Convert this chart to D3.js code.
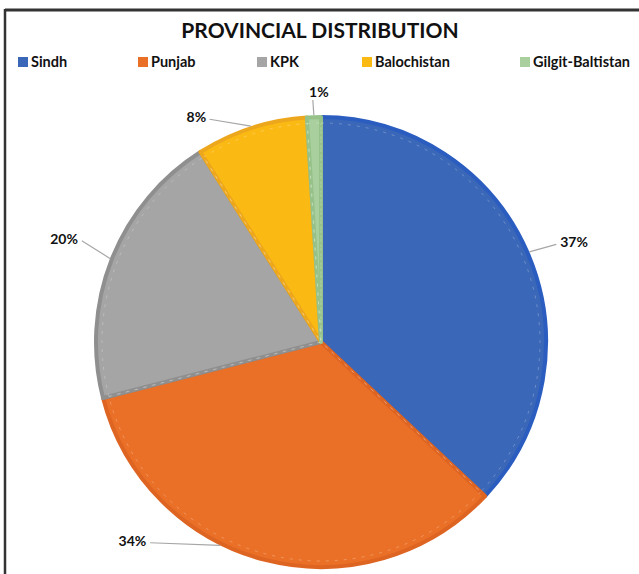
<!DOCTYPE html>
<html>
<head>
<meta charset="utf-8">
<script src="https://cdnjs.cloudflare.com/ajax/libs/d3/7.8.5/d3.min.js"></script>
<style>
  body { margin: 0; background: #fff; }
</style>
</head>
<body>
<div id="chart"></div>
<script>
const w = 639;
const h = 574;

// data
const provinces = ["Sindh", "Punjab", "KPK", "Balochistan", "Gilgit-Baltistan"];
const shares = [37, 34, 20, 8, 1];
const fills = ["#3a67b7", "#ea7027", "#a5a5a5", "#fbb914", "#a8cf9d"];
const edges = ["#2a5dbf", "#de6422", "#8f8f8f", "#eda71c", "#96c28a"];

// label placement: [leader angle shift (deg), text angle (deg), text radius]
const labelLayout = [
  [0, 68.5, 272],
  [12, 223.5, 274],
  [0, 291.9, 277],
  [0, 331, 257],
  [0, 359.5, 250]
];

const cx = 321, cy = 342, r = 227;

const svg = d3.select("#chart").append("svg")
  .attr("width", w).attr("height", h)
  .style("font-family", "Lato, 'Open Sans', sans-serif");

// frame (top and left edges only are visible)
svg.append("line").attr("x1", 5).attr("x2", w).attr("y1", 10).attr("y2", 10)
  .attr("stroke", "#333").attr("stroke-width", 3);
svg.append("line").attr("x1", 5).attr("x2", 5).attr("y1", 9).attr("y2", h)
  .attr("stroke", "#333").attr("stroke-width", 2.5);

svg.append("text")
  .attr("x", 320).attr("y", 38)
  .attr("text-anchor", "middle")
  .style("font-size", "21px").style("font-weight", "bold")
  .attr("fill", "#111")
  .text("PROVINCIAL DISTRIBUTION");

// legend
const legendX = [18, 138, 257, 362, 520];
const legend = svg.selectAll("g.leg").data(provinces).enter().append("g")
  .attr("class", "leg")
  .attr("transform", (d, i) => "translate(" + legendX[i] + ",57)");
legend.append("rect").attr("width", 10).attr("height", 10)
  .attr("fill", (d, i) => fills[i]);
legend.append("text").attr("x", 13).attr("y", 10)
  .style("font-size", "14.5px").style("font-weight", "bold")
  .attr("fill", "#111")
  .text(d => d);

// pie
const pie = d3.pie().sort(null).value(d => d)(shares);
const arc = d3.arc().innerRadius(0).outerRadius(r - 2);

const g = svg.append("g").attr("transform", "translate(" + cx + "," + cy + ")");
g.selectAll("path").data(pie).enter().append("path")
  .attr("d", arc)
  .attr("fill", (d, i) => fills[i])
  .attr("stroke", (d, i) => edges[i])
  .attr("stroke-width", 4)
  .attr("stroke-linejoin", "round");

// inner dashed highlight like the source
const innerArc = d3.arc().innerRadius(0).outerRadius(r - 8);
g.selectAll("path.hl").data(pie).enter().append("path")
  .attr("class", "hl")
  .attr("d", innerArc)
  .attr("fill", "none")
  .attr("stroke", "#fff")
  .attr("stroke-opacity", 0.25)
  .attr("stroke-width", 1)
  .attr("stroke-dasharray", "3,6");

// labels with leader lines
const rad = a => a * Math.PI / 180;
pie.forEach(function (d, i) {
  const lay = labelLayout[i];
  const mid = (d.startAngle + d.endAngle) / 2 + rad(lay[0]);
  const p0 = [r * Math.sin(mid), -r * Math.cos(mid)];
  const ta = rad(lay[1]);
  const tx = lay[2] * Math.sin(ta), ty = -lay[2] * Math.cos(ta);
  const txt = d3.format(".0f")(d.value) + "%";
  const half = txt.length * 4.6;
  let p1;
  if (i === 4) {
    p1 = [tx - 6, ty + 8];
  } else if (tx > 0) {
    p1 = [tx - half - 4, ty + 2];
  } else {
    p1 = [tx + half + 4, ty + 2];
  }
  g.append("polyline")
    .attr("points", [p0, p1].map(p => p.join(",")).join(" "))
    .attr("fill", "none").attr("stroke", "#a6a6a6").attr("stroke-width", 1.2);
  g.append("text")
    .attr("x", tx).attr("y", ty + 5)
    .attr("text-anchor", "middle")
    .style("font-size", "14px").style("font-weight", "bold")
    .attr("fill", "#111")
    .text(txt);
});
</script>
</body>
</html>
